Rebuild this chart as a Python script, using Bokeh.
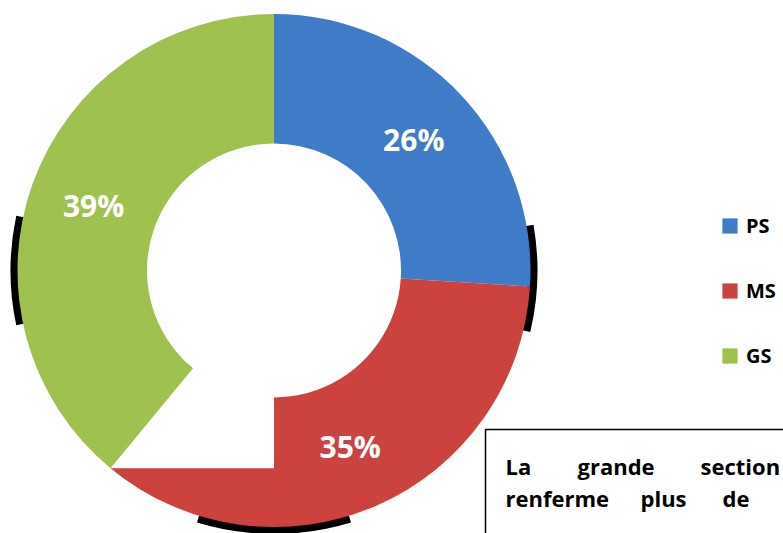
import math
from bokeh.plotting import figure
from bokeh.models import Range1d, Legend, LegendItem
from bokeh.core.properties import value
from bokeh.embed import file_html
from bokeh.resources import INLINE

# ---- data ----
categories = ["PS", "MS", "GS"]
percents = [26, 35, 39]
colors = ["#3f7bc6", "#cc423e", "#9fc150"]
box_lines = [["La", "grande", "section"], ["renferme", "plus", "de"]]

# ---- layout (picture pixels) ----
W, H = 783, 533
CX, CY = 273.5, 270.0          # donut centre in the picture
R_OUT, R_IN = 256.5, 127.0
FONT = "Open Sans"

def px(x):  # picture x -> data x
    return x - CX

def py(y):  # picture y -> data y
    return CY - y

p = figure(width=W, height=H,
           x_range=Range1d(px(0), px(W)),
           y_range=Range1d(py(H), py(0)),
           output_backend="svg", toolbar_location=None, min_border=0)
p.axis.visible = False
p.grid.visible = False
p.outline_line_color = None
p.background_fill_color = "white"

# shadow slivers behind the ring
for a0, a1 in [(168, 192), (-13.5, 10), (253, 287)]:
    p.annular_wedge(x=0, y=0, inner_radius=R_OUT - 3, outer_radius=R_OUT + 7,
                    start_angle=math.radians(a0), end_angle=math.radians(a1),
                    fill_color="black", line_color=None)

total = sum(percents)
cum = 0.0
renderers = []
label_x, label_y, label_t = [], [], []
r_mid = (R_IN + R_OUT) / 2
for i, (cat, v, col) in enumerate(zip(categories, percents, colors)):
    s_cw = cum / total * 2 * math.pi
    cum += v
    e_cw = cum / total * 2 * math.pi
    r = p.annular_wedge(x=0, y=0, inner_radius=R_IN, outer_radius=R_OUT,
                        start_angle=math.pi / 2 - e_cw, end_angle=math.pi / 2 - s_cw,
                        fill_color=col, line_color=None)
    renderers.append(r)
    m = (s_cw + e_cw) / 2
    label_x.append(r_mid * math.sin(m))
    label_y.append(r_mid * math.cos(m))
    label_t.append(f"{v}%")
    if i == 1:
        # blank patch over the lower-left part of the MS slice (as in the source image)
        tip_x = R_OUT * math.sin(e_cw)
        tip_y = R_OUT * math.cos(e_cw)
        p.quad(left=tip_x, right=0, bottom=tip_y, top=0,
               fill_color="white", line_color=None)

p.text(x=label_x, y=label_y, text=label_t, text_color="white",
       text_font=value(FONT), text_font_style="bold", text_font_size="30px",
       text_align="center", text_baseline="middle")

legend = Legend(items=[LegendItem(label=c, renderers=[r]) for c, r in zip(categories, renderers)],
                location=(720, 164), orientation="vertical",
                glyph_width=19, glyph_height=19, label_height=19, label_width=10,
                spacing=38, padding=0, margin=0, label_standoff=7,
                border_line_color=None, background_fill_alpha=0,
                label_text_font=FONT, label_text_font_style="bold",
                label_text_font_size="20px", label_text_color="black")
p.add_layout(legend)

# text box (runs off the picture edge, as in the reference)
p.quad(left=px(485), right=px(900), top=py(429), bottom=py(700),
       fill_color="white", line_color="black", line_width=1.5)
word_x = [[505, 577, 700], [505, 640, 722]]
line_base = [465, 497]
wx, wy, wt = [], [], []
for words, xs, yb in zip(box_lines, word_x, line_base):
    for w, x in zip(words, xs):
        wx.append(px(x)); wy.append(py(yb)); wt.append(w)
p.text(x=wx, y=wy, text=wt, text_color="black", text_font=value(FONT),
       text_font_style="bold", text_font_size="22px",
       text_align="left", text_baseline="alphabetic")

open("out.html", "w").write(file_html(p, INLINE))
